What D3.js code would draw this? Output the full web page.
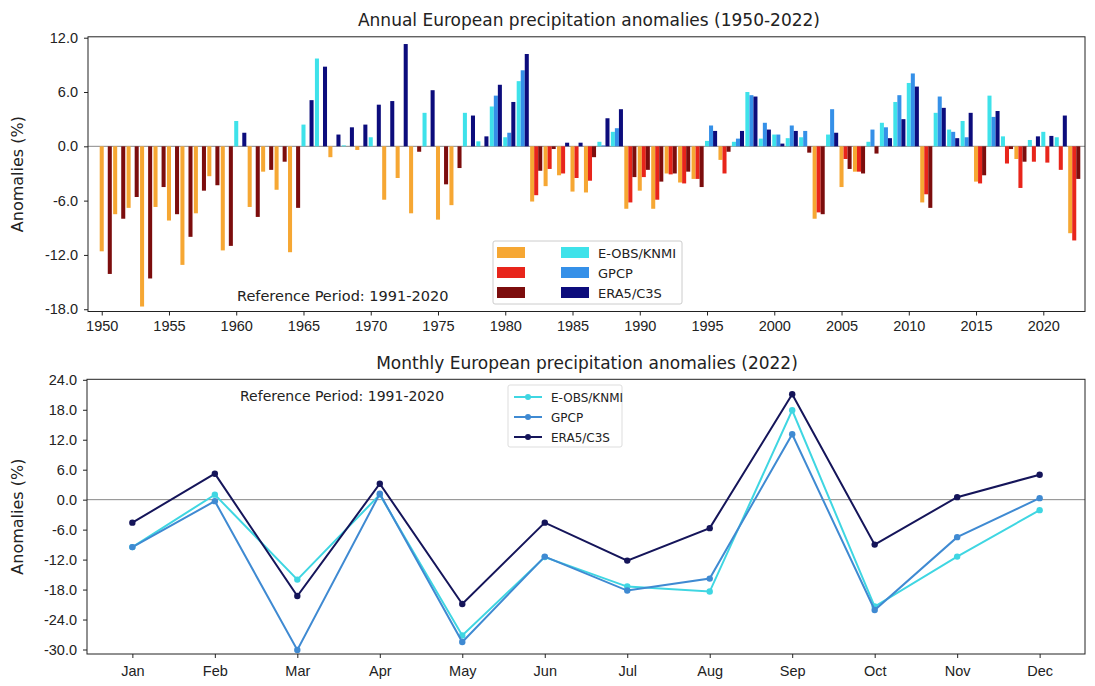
<!DOCTYPE html>
<html>
<head>
<meta charset="utf-8">
<script src="https://cdn.jsdelivr.net/npm/d3@7"></script>
<style>
body{margin:0;background:#fff;}
svg{font-family:"DejaVu Sans",sans-serif;}
</style>
</head>
<body>
<svg id="chart" width="1095" height="686"></svg>
<script>
// annual anomalies (%), 1950-2022
var years = [1950,1951,1952,1953,1954,1955,1956,1957,1958,1959,
    1960,1961,1962,1963,1964,1965,1966,1967,1968,1969,
    1970,1971,1972,1973,1974,1975,1976,1977,1978,1979,
    1980,1981,1982,1983,1984,1985,1986,1987,1988,1989,
    1990,1991,1992,1993,1994,1995,1996,1997,1998,1999,
    2000,2001,2002,2003,2004,2005,2006,2007,2008,2009,
    2010,2011,2012,2013,2014,2015,2016,2017,2018,2019,
    2020,2021,2022];
var eobs = [-11.6,-7.5,-6.8,-17.7,-6.7,-8.2,-13.1,-7.4,-3.3,-11.5,
    2.8,-6.7,-2.8,-4.8,-11.7,2.4,9.7,-1.2,0.1,-0.4,
    1.0,-5.9,-3.5,-7.4,3.7,-8.1,-6.5,3.7,0.55,4.4,
    1.0,7.2,-6.1,-4.4,-3.2,-5.0,-5.1,0.5,1.6,-6.9,
    -4.9,-6.9,-3.0,-4.0,-3.6,0.6,-1.5,0.5,6.0,0.85,
    1.3,0.9,1.0,-8.0,1.3,-4.5,-2.8,0.5,2.6,4.9,
    7.0,-6.2,3.7,1.85,2.8,-3.9,5.6,1.1,-1.4,0.7,
    1.6,1.0,-9.6];
var gpcp = [null,null,null,null,null,null,null,null,null,null,
    null,null,null,null,null,null,null,null,null,null,
    null,null,null,null,null,null,null,null,null,5.6,
    1.5,8.4,-5.4,-2.5,-3.0,-3.5,-3.8,0.1,2.0,-6.2,
    -3.4,-5.9,-3.1,-4.1,-3.6,2.3,-3.0,0.85,5.65,2.6,
    1.3,2.3,1.7,-7.3,4.1,-1.4,-2.8,1.85,2.1,5.65,
    8.05,-5.3,5.5,1.6,1.0,-4.1,3.25,-1.9,-4.6,-1.7,
    -1.8,-2.6,-10.4];
var era5 = [-14.1,-8.0,-5.6,-14.6,-4.5,-7.5,-10.0,-4.9,-4.3,-11.0,
    1.5,-7.8,-2.6,-1.7,-6.8,5.1,8.8,1.3,2.1,2.4,
    4.6,5.0,11.3,-0.6,6.2,-4.2,-2.4,3.4,1.1,6.8,
    4.9,10.2,-2.7,-0.3,0.4,0.4,-1.2,3.1,4.1,-3.4,
    -2.6,-3.9,-3.0,-2.8,-4.5,1.7,-0.6,1.7,5.5,1.85,
    0.3,1.7,-0.7,-7.5,1.5,-2.5,-3.0,-0.8,0.9,3.0,
    6.6,-6.8,4.25,0.9,3.7,-3.2,3.9,-0.3,-1.7,1.1,
    1.15,3.4,-3.6];

// monthly anomalies (%), 2022
var months = ["Jan","Feb","Mar","Apr","May","Jun","Jul","Aug","Sep","Oct","Nov","Dec"];
var eobsMonthly = [-9.5,1.0,-16.0,1.0,-27.2,-11.5,-17.4,-18.4,17.9,-21.4,-11.4,-2.1];
var gpcpMonthly = [-9.5,-0.3,-30.1,1.2,-28.5,-11.4,-18.2,-15.8,13.1,-22.1,-7.5,0.3];
var era5Monthly = [-4.6,5.2,-19.3,3.2,-20.9,-4.6,-12.2,-5.7,21.1,-9.0,0.5,5.0];

var yearTicks = [1950,1955,1960,1965,1970,1975,1980,1985,1990,1995,2000,2005,2010,2015,2020];
var annualTicks = [12,6,0,-6,-12,-18];
var monthlyTicks = [24,18,12,6,0,-6,-12,-18,-24,-30];

var svg = d3.select("#chart");
var fmt = function(d){ return d.toFixed(1); };

var annualSeries = [
    {name:"E-OBS/KNMI", values:eobs, offset:0.0, neg:"#f6a733", pos:"#3ee2ea"},
    {name:"GPCP", values:gpcp, offset:0.3, neg:"#e8251b", pos:"#3590e8"},
    {name:"ERA5/C3S", values:era5, offset:0.6, neg:"#7c0d0d", pos:"#0c0c7c"}
];
var monthlySeries = [
    {name:"E-OBS/KNMI", values:eobsMonthly, color:"#3fd6e2"},
    {name:"GPCP", values:gpcpMonthly, color:"#3f8ad2"},
    {name:"ERA5/C3S", values:era5Monthly, color:"#15155a"}
];

function styleAxis(g, size){
    g.select(".domain").remove();
    g.selectAll(".tick line").attr("stroke", "#222");
    g.selectAll(".tick text").attr("fill", "#222").style("font-size", size + "px");
}

// ---------- annual bars ----------
var ann = {left:88, right:1085, top:36.8, bottom:311.5};
var x = d3.scaleLinear().domain([1948.98, 2023.1]).range([ann.left, ann.right]);
var y = d3.scaleLinear().domain([-18.25, 12.1]).range([ann.bottom, ann.top]);
var bw = x(0.3) - x(0);

svg.append("line")
    .attr("x1", ann.left).attr("x2", ann.right)
    .attr("y1", y(0)).attr("y2", y(0))
    .attr("stroke", "#888").attr("stroke-width", 1);

annualSeries.forEach(function(s){
    svg.append("g").selectAll("rect")
        .data(years.map(function(yr, i){ return {year:yr, v:s.values[i]}; })
            .filter(function(d){ return d.v !== null; }))
        .enter().append("rect")
        .attr("x", function(d){ return x(d.year + s.offset) - bw/2; })
        .attr("width", bw)
        .attr("y", function(d){ return Math.min(y(d.v), y(0)); })
        .attr("height", function(d){ return Math.abs(y(d.v) - y(0)); })
        .attr("fill", function(d){ return d.v < 0 ? s.neg : s.pos; });
});

svg.append("g").attr("transform", "translate(" + ann.left + ",0)")
    .call(d3.axisLeft(y).tickValues(annualTicks).tickFormat(fmt).tickSize(4).tickPadding(6))
    .call(styleAxis, 14.5);
svg.append("g").attr("transform", "translate(0," + ann.bottom + ")")
    .call(d3.axisBottom(x).tickValues(yearTicks).tickFormat(d3.format("d")).tickSize(4).tickPadding(5))
    .call(styleAxis, 14.5);

svg.append("rect")
    .attr("x", ann.left).attr("y", ann.top)
    .attr("width", ann.right - ann.left).attr("height", ann.bottom - ann.top)
    .attr("fill", "none").attr("stroke", "#222").attr("stroke-width", 1);

svg.append("text").attr("x", 589).attr("y", 26)
    .attr("text-anchor", "middle").style("font-size", "17px").attr("fill", "#222")
    .text("Annual European precipitation anomalies (1950-2022)");
svg.append("text").attr("x", 237).attr("y", 300.5)
    .style("font-size", "14.5px").attr("fill", "#222")
    .text("Reference Period: 1991-2020");
svg.append("text")
    .attr("transform", "translate(23," + ((ann.top + ann.bottom)/2) + ") rotate(-90)")
    .attr("text-anchor", "middle").style("font-size", "16px").attr("fill", "#222")
    .text("Anomalies (%)");

// legend (annual)
var lg = svg.append("g");
lg.append("rect").attr("x", 493).attr("y", 241).attr("width", 189).attr("height", 63)
    .attr("fill", "#fff").attr("stroke", "#ccc").attr("rx", 2);
annualSeries.forEach(function(s, i){
    var ry = 247 + i*20;
    lg.append("rect").attr("x", 497).attr("y", ry).attr("width", 28).attr("height", 11).attr("fill", s.neg);
    lg.append("rect").attr("x", 561).attr("y", ry).attr("width", 28).attr("height", 11).attr("fill", s.pos);
    lg.append("text").attr("x", 598).attr("y", ry + 10.5)
        .style("font-size", "13px").attr("fill", "#222").text(s.name);
});

// ---------- monthly lines ----------
var bot = {left:87, right:1085, top:379.3, bottom:654};
var xm = d3.scaleLinear().domain([-0.55, 11.55]).range([bot.left, bot.right]);
var ym = d3.scaleLinear().domain([-30.9, 24.1]).range([bot.bottom, bot.top]);

svg.append("line")
    .attr("x1", bot.left).attr("x2", bot.right)
    .attr("y1", ym(0)).attr("y2", ym(0))
    .attr("stroke", "#888").attr("stroke-width", 1);

var line = d3.line()
    .x(function(d, i){ return xm(i); })
    .y(function(d){ return ym(d); });

monthlySeries.forEach(function(s){
    svg.append("path").datum(s.values)
        .attr("d", line).attr("fill", "none")
        .attr("stroke", s.color).attr("stroke-width", 2);
    svg.append("g").selectAll("circle").data(s.values).enter().append("circle")
        .attr("cx", function(d, i){ return xm(i); })
        .attr("cy", function(d){ return ym(d); })
        .attr("r", 3.2).attr("fill", s.color);
});

svg.append("g").attr("transform", "translate(" + bot.left + ",0)")
    .call(d3.axisLeft(ym).tickValues(monthlyTicks).tickFormat(fmt).tickSize(4).tickPadding(6))
    .call(styleAxis, 14.5);
svg.append("g").attr("transform", "translate(0," + bot.bottom + ")")
    .call(d3.axisBottom(xm).tickValues(d3.range(months.length))
        .tickFormat(function(i){ return months[i]; }).tickSize(4).tickPadding(8))
    .call(styleAxis, 14.5);

svg.append("rect")
    .attr("x", bot.left).attr("y", bot.top)
    .attr("width", bot.right - bot.left).attr("height", bot.bottom - bot.top)
    .attr("fill", "none").attr("stroke", "#222").attr("stroke-width", 1);

svg.append("text").attr("x", 587).attr("y", 369)
    .attr("text-anchor", "middle").style("font-size", "17px").attr("fill", "#222")
    .text("Monthly European precipitation anomalies (2022)");
svg.append("text").attr("x", 240).attr("y", 400.5)
    .style("font-size", "14px").attr("fill", "#222")
    .text("Reference Period: 1991-2020");
svg.append("text")
    .attr("transform", "translate(23," + ((bot.top + bot.bottom)/2) + ") rotate(-90)")
    .attr("text-anchor", "middle").style("font-size", "16px").attr("fill", "#222")
    .text("Anomalies (%)");

// legend (monthly)
var lm = svg.append("g");
lm.append("rect").attr("x", 508).attr("y", 385).attr("width", 114).attr("height", 62)
    .attr("fill", "#fff").attr("stroke", "#ddd").attr("rx", 2);
monthlySeries.forEach(function(s, i){
    var ry = 397 + i*20;
    lm.append("line").attr("x1", 514).attr("x2", 542).attr("y1", ry).attr("y2", ry)
        .attr("stroke", s.color).attr("stroke-width", 2);
    lm.append("circle").attr("cx", 528).attr("cy", ry).attr("r", 3).attr("fill", s.color);
    lm.append("text").attr("x", 551).attr("y", ry + 4.5)
        .style("font-size", "12px").attr("fill", "#222").text(s.name);
});
</script>
</body>
</html>
